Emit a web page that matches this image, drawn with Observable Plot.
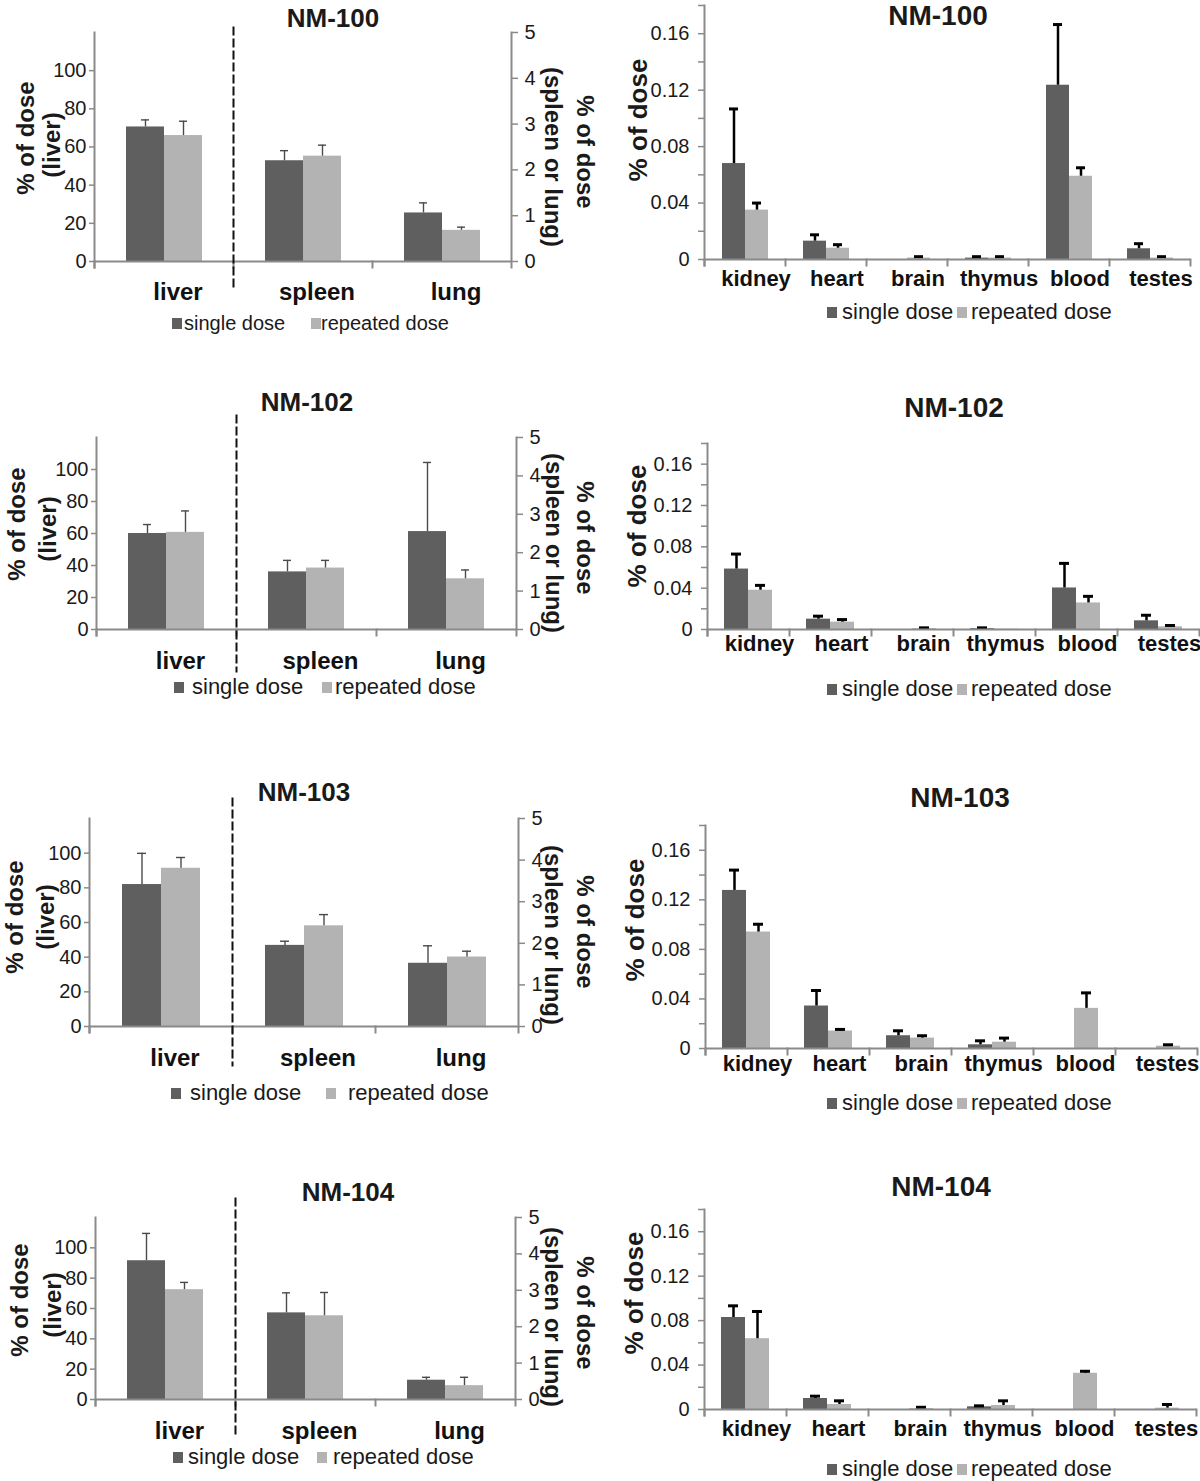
<!DOCTYPE html>
<html>
<head>
<meta charset="utf-8">
<script src="https://cdn.jsdelivr.net/npm/d3@7"></script>
<script src="https://cdn.jsdelivr.net/npm/@observablehq/plot@0.6"></script>
<style>
  body { margin: 0; background: #fff; font-family: "Liberation Sans", Arial, Helvetica, sans-serif; }
  #root { position: relative; width: 1200px; height: 1481px; overflow: hidden; background: #fff; }
  .abs { position: absolute; white-space: nowrap; line-height: 1; color: #1a1a1a; }
  .sq { position: absolute; }
</style>
</head>
<body>
<div id="root"></div>
<script>
// ---------------- DATA ----------------
const compounds = ["NM-100", "NM-102", "NM-103", "NM-104"];
const doses = ["single dose", "repeated dose"];
const majorOrgans = ["liver", "spleen", "lung"];
const minorOrgans = ["kidney", "heart", "brain", "thymus", "blood", "testes"];

// left axis (liver) and right axis (spleen or lung), % of dose
const leftTicks = [0, 20, 40, 60, 80, 100];
const leftMax = 120;
const rightTicks = [0, 1, 2, 3, 4, 5];
const rightMax = 5;
// other organs, % of dose
const minorTicks = [0, 0.02, 0.04, 0.06, 0.08, 0.1, 0.12, 0.14, 0.16, 0.18];
const minorLabeled = [0, 0.04, 0.08, 0.12, 0.16];
const minorMax = 0.18;

// liver (left axis) / spleen, lung (right axis)
const nm100MajorSingle = [70.5, 2.2, 1.06];
const nm100MajorSingleErr = [3.7, 0.22, 0.22];
const nm100MajorRepeated = [66, 2.3, 0.68];
const nm100MajorRepeatedErr = [7.5, 0.24, 0.07];

const nm102MajorSingle = [60, 1.5, 2.55];
const nm102MajorSingleErr = [5.6, 0.3, 1.8];
const nm102MajorRepeated = [60.7, 1.6, 1.32];
const nm102MajorRepeatedErr = [13.4, 0.2, 0.23];

const nm103MajorSingle = [81.9, 1.95, 1.52];
const nm103MajorSingleErr = [18, 0.1, 0.42];
const nm103MajorRepeated = [91.3, 2.42, 1.67];
const nm103MajorRepeatedErr = [6.2, 0.27, 0.14];

const nm104MajorSingle = [91.5, 2.38, 0.53];
const nm104MajorSingleErr = [18, 0.55, 0.08];
const nm104MajorRepeated = [72.4, 2.3, 0.38];
const nm104MajorRepeatedErr = [4.8, 0.64, 0.23];

// kidney, heart, brain, thymus, blood, testes
const nm100MinorSingle = [0.068, 0.013, 0, 0.001, 0.1235, 0.0076];
const nm100MinorSingleErr = [0.0387, 0.0045, 0, 0.001, 0.043, 0.0036];
const nm100MinorRepeated = [0.035, 0.008, 0.001, 0.001, 0.059, 0.001];
const nm100MinorRepeatedErr = [0.005, 0.0025, 0.001, 0.001, 0.006, 0.001];

const nm102MinorSingle = [0.0585, 0.01, 0, 0.0008, 0.0402, 0.0084];
const nm102MinorSingleErr = [0.0145, 0.0029, 0, 0.0008, 0.0238, 0.0054];
const nm102MinorRepeated = [0.038, 0.0071, 0.0008, 0.0003, 0.0257, 0.0026];
const nm102MinorRepeatedErr = [0.0047, 0.0025, 0.0008, 0, 0.0064, 0.0013];

const nm103MinorSingle = [0.1276, 0.0343, 0.0103, 0.003, 0, 0];
const nm103MinorSingleErr = [0.0164, 0.0125, 0.004, 0.0032, 0, 0];
const nm103MinorRepeated = [0.094, 0.0141, 0.0084, 0.0051, 0.0324, 0.0019];
const nm103MinorRepeatedErr = [0.0063, 0.0013, 0.0019, 0.0033, 0.0125, 0.0011];

const nm104MinorSingle = [0.0828, 0.0099, 0, 0.0024, 0, 0];
const nm104MinorSingleErr = [0.0105, 0.0021, 0, 0.0009, 0, 0];
const nm104MinorRepeated = [0.0637, 0.0045, 0.0008, 0.0036, 0.0326, 0.0012];
const nm104MinorRepeatedErr = [0.0245, 0.0033, 0.0012, 0.0042, 0.0018, 0.0033];

const majorSingle = [nm100MajorSingle, nm102MajorSingle, nm103MajorSingle, nm104MajorSingle];
const majorSingleErr = [nm100MajorSingleErr, nm102MajorSingleErr, nm103MajorSingleErr, nm104MajorSingleErr];
const majorRepeated = [nm100MajorRepeated, nm102MajorRepeated, nm103MajorRepeated, nm104MajorRepeated];
const majorRepeatedErr = [nm100MajorRepeatedErr, nm102MajorRepeatedErr, nm103MajorRepeatedErr, nm104MajorRepeatedErr];
const minorSingle = [nm100MinorSingle, nm102MinorSingle, nm103MinorSingle, nm104MinorSingle];
const minorSingleErr = [nm100MinorSingleErr, nm102MinorSingleErr, nm103MinorSingleErr, nm104MinorSingleErr];
const minorRepeated = [nm100MinorRepeated, nm102MinorRepeated, nm103MinorRepeated, nm104MinorRepeated];
const minorRepeatedErr = [nm100MinorRepeatedErr, nm102MinorRepeatedErr, nm103MinorRepeatedErr, nm104MinorRepeatedErr];

// ---------------- LAYOUT / STYLE ----------------
const FONT = '"Liberation Sans", Arial, Helvetica, sans-serif';
const barColors = ["#5f5f5f", "#b3b3b3"];
const axisGray = "#8a8a8a";
const ink = "#1a1a1a";

const leftLayouts = [
  {axisLeft: 94, axisRight: 511, axisTop: 32, baseline: 261, dashUp: 5, dashDown: 25, labelPad: 21,
   title: [333, 18], ylab1: [26, 138], ylab2: [52, 145], rlab1: [553, 157], rlab2: [585, 152],
   legendY: 323, legendFont: 20, legendItems: [[172, 184], [311, 321]]},
  {axisLeft: 95, axisRight: 517, axisTop: 437, baseline: 629, dashUp: 22, dashDown: 42, labelPad: 22,
   title: [307, 402], ylab1: [17, 524], ylab2: [48, 529], rlab1: [554, 543], rlab2: [585, 538],
   legendY: 687, legendFont: 22, legendItems: [[174, 192], [322, 335]]},
  {axisLeft: 88, axisRight: 518, axisTop: 818, baseline: 1026, dashUp: 20, dashDown: 39, labelPad: 22,
   title: [304, 792], ylab1: [15, 917], ylab2: [46, 917], rlab1: [553, 935], rlab2: [585, 932],
   legendY: 1093, legendFont: 22, legendItems: [[171, 190], [326, 348]]},
  {axisLeft: 94, axisRight: 515, axisTop: 1217, baseline: 1399, dashUp: 19, dashDown: 34, labelPad: 22,
   title: [348, 1192], ylab1: [20, 1300], ylab2: [53, 1305], rlab1: [553, 1317], rlab2: [585, 1313],
   legendY: 1457, legendFont: 22, legendItems: [[173, 188], [317, 333]]}
];
const rightLayouts = [
  {axisLeft: 702, axisRight: 1191, axisTop: 5, baseline: 259, labelPad: 11, title: [938, 16], ylab: [638, 120], legendY: 312},
  {axisLeft: 705, axisRight: 1200, axisTop: 443, baseline: 629, labelPad: 6, title: [954, 408], ylab: [637, 526], legendY: 689},
  {axisLeft: 705, axisRight: 1197, axisTop: 825, baseline: 1048, labelPad: 7, title: [960, 798], ylab: [635, 920], legendY: 1103},
  {axisLeft: 704, axisRight: 1196, axisTop: 1209, baseline: 1409, labelPad: 11, title: [941, 1187], ylab: [634, 1293], legendY: 1469}
];
const rightLegendItems = [[827, 842], [957, 971]];

const root = document.getElementById("root");

function addText(txt, x, y, size, weight, rotate) {
  const d = document.createElement("div");
  d.className = "abs";
  d.textContent = txt;
  d.style.left = x + "px";
  d.style.top = y + "px";
  d.style.fontSize = size + "px";
  d.style.fontWeight = weight;
  d.style.transform = "translate(-50%,-50%)" + (rotate ? ` rotate(${rotate}deg)` : "");
  root.appendChild(d);
}

function addLegend(y, font, items) {
  doses.forEach((dose, i) => {
    const [sx, tx] = items[i];
    const s = document.createElement("div");
    s.className = "sq";
    s.style.left = sx + "px";
    s.style.top = (y - 5) + "px";
    s.style.width = "10px";
    s.style.height = "11px";
    s.style.background = barColors[i];
    root.appendChild(s);
    const t = document.createElement("div");
    t.className = "abs";
    t.textContent = dose;
    t.style.left = tx + "px";
    t.style.top = y + "px";
    t.style.fontSize = font + "px";
    t.style.transform = "translateY(-52%)";
    root.appendChild(t);
  });
}

function place(svg, left, top) {
  svg.style.position = "absolute";
  svg.style.left = left + "px";
  svg.style.top = top + "px";
  root.appendChild(svg);
}

function majorPanel(k, L) {
  const ratio = leftMax / rightMax;
  const rows = [];
  majorOrgans.forEach((organ, j) => {
    doses.forEach((dose, s) => {
      const v = (s === 0 ? majorSingle : majorRepeated)[k][j];
      const e = (s === 0 ? majorSingleErr : majorRepeatedErr)[k][j];
      const f = j === 0 ? 1 : ratio; // liver on left axis, spleen/lung on right axis
      rows.push({organ, dose, value: v * f, top: (v + e) * f, err: e});
    });
  });
  const errRows = rows.filter(d => d.err > 0);
  const top = Math.max(0, L.axisTop - 30);
  const bottom = L.baseline + 50;
  const H = bottom - top;
  const plotH = L.baseline - L.axisTop;
  const svg = Plot.plot({
    width: 600, height: H,
    marginLeft: L.axisLeft, marginRight: 600 - L.axisRight,
    marginTop: L.axisTop - top, marginBottom: bottom - L.baseline,
    style: {fontFamily: FONT, background: "transparent", color: ink, overflow: "visible"},
    fx: {domain: majorOrgans, padding: 0, axis: null},
    x: {domain: doses, paddingInner: 0, paddingOuter: 0.8, align: 0.5, axis: null},
    y: {domain: [0, leftMax], axis: null},
    color: {domain: doses, range: barColors},
    marks: [
      Plot.barY(rows, {fx: "organ", x: "dose", y: "value", fill: "dose"}),
      Plot.ruleX(errRows, {fx: "organ", x: "dose", y1: "value", y2: "top", stroke: "#4a4a4a", strokeWidth: 1.4}),
      Plot.tickY(errRows, {fx: "organ", x: "dose", y: "top", stroke: "#4a4a4a", strokeWidth: 1.4, insetLeft: 15, insetRight: 15}),
      Plot.ruleY([0], {stroke: axisGray, strokeWidth: 2}),
      Plot.frame({anchor: "left", facetAnchor: "left", stroke: axisGray, strokeWidth: 2, insetBottom: -6}),
      Plot.frame({anchor: "right", facetAnchor: "right", stroke: axisGray, strokeWidth: 2, insetBottom: -6}),
      Plot.frame({anchor: "left", stroke: axisGray, strokeWidth: 2, insetTop: plotH, insetBottom: -6}),
      Plot.frame({anchor: "right", facetAnchor: "left", stroke: "#111", strokeWidth: 2, strokeDasharray: "7,5",
                  insetTop: -L.dashUp, insetBottom: -L.dashDown}),
      Plot.axisY({anchor: "left", ticks: leftTicks, tickSize: 5, tickPadding: 3, fontSize: 20,
                  stroke: axisGray, strokeWidth: 1.5, fill: ink, label: null}),
      Plot.axisY({anchor: "right", ticks: rightTicks.map(t => t * ratio), tickFormat: t => String(+(t / ratio).toFixed(3)),
                  tickSize: 6, tickPadding: 7, fontSize: 20, stroke: axisGray, strokeWidth: 1.5, fill: ink, label: null}),
      Plot.axisFx({anchor: "bottom", tickSize: 0, tickPadding: L.labelPad, fontSize: 24, fontWeight: "bold",
                   dx: 14, fill: "#111", label: null})
    ]
  });
  place(svg, 0, top);
  addText(compounds[k], L.title[0], L.title[1], 26, "bold");
  addText("% of dose", L.ylab1[0], L.ylab1[1], 24, "bold", -90);
  addText("(liver)", L.ylab2[0], L.ylab2[1], 24, "bold", -90);
  addText("(spleen or lung)", L.rlab1[0], L.rlab1[1], 24, "bold", 90);
  addText("% of dose", L.rlab2[0], L.rlab2[1], 24, "bold", 90);
  addLegend(L.legendY, L.legendFont, L.legendItems);
}

function minorPanel(k, R) {
  const rows = [];
  minorOrgans.forEach((organ, j) => {
    doses.forEach((dose, s) => {
      const v = (s === 0 ? minorSingle : minorRepeated)[k][j];
      const e = (s === 0 ? minorSingleErr : minorRepeatedErr)[k][j];
      rows.push({organ, dose, value: v, top: v + e, err: e});
    });
  });
  const errRows = rows.filter(d => d.err > 0);
  const top = Math.max(0, R.axisTop - 10);
  const bottom = R.baseline + 45;
  const H = bottom - top;
  const plotH = R.baseline - R.axisTop;
  const svg = Plot.plot({
    width: 600, height: H,
    marginLeft: R.axisLeft - 600, marginRight: 1200 - R.axisRight,
    marginTop: R.axisTop - top, marginBottom: bottom - R.baseline,
    style: {fontFamily: FONT, background: "transparent", color: ink, overflow: "visible"},
    fx: {domain: minorOrgans, padding: 0, axis: null},
    x: {domain: doses, paddingInner: 0, paddingOuter: 0.69, align: 0.5, axis: null},
    y: {domain: [0, minorMax], axis: null},
    color: {domain: doses, range: barColors},
    marks: [
      Plot.barY(rows, {fx: "organ", x: "dose", y: "value", fill: "dose"}),
      Plot.ruleX(errRows, {fx: "organ", x: "dose", y1: "value", y2: "top", stroke: "#000", strokeWidth: 2.5}),
      Plot.tickY(errRows, {fx: "organ", x: "dose", y: "top", stroke: "#000", strokeWidth: 3, insetLeft: 7, insetRight: 7}),
      Plot.ruleY([0], {stroke: axisGray, strokeWidth: 2}),
      Plot.frame({anchor: "left", facetAnchor: "left", stroke: axisGray, strokeWidth: 2, insetBottom: -6}),
      Plot.frame({anchor: "left", stroke: axisGray, strokeWidth: 2, insetTop: plotH, insetBottom: -6}),
      Plot.frame({anchor: "right", facetAnchor: "right", stroke: axisGray, strokeWidth: 2, insetTop: plotH, insetBottom: -6}),
      Plot.axisY({anchor: "left", ticks: minorTicks,
                  tickFormat: d => minorLabeled.includes(d) ? (d === 0 ? "0" : d.toFixed(2)) : "",
                  tickSize: 6, tickPadding: 9, fontSize: 20, stroke: axisGray, strokeWidth: 1.5, fill: ink, label: null}),
      Plot.axisFx({anchor: "bottom", tickSize: 0, tickPadding: R.labelPad, fontSize: 22, fontWeight: "bold",
                   dx: 11, fill: "#111", label: null})
    ]
  });
  place(svg, 600, top);
  addText(compounds[k], R.title[0], R.title[1], 28, "bold");
  addText("% of dose", R.ylab[0], R.ylab[1], 26, "bold", -90);
  addLegend(R.legendY, 22, rightLegendItems);
}

compounds.forEach((c, k) => {
  majorPanel(k, leftLayouts[k]);
  minorPanel(k, rightLayouts[k]);
});
</script>
</body>
</html>
